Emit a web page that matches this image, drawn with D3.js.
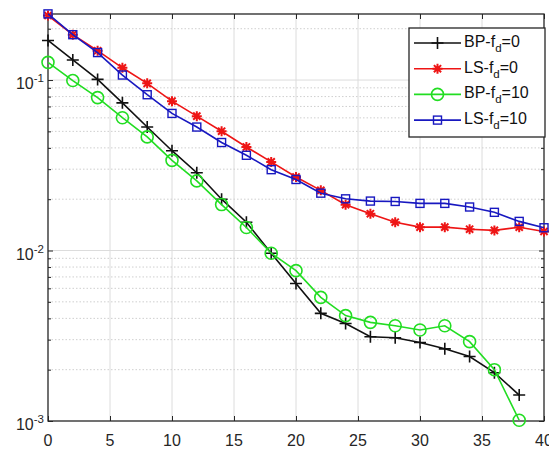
<!DOCTYPE html>
<html>
<head>
<meta charset="utf-8">
<script src="https://cdn.jsdelivr.net/npm/d3@7"></script>
<style>
  html, body { margin: 0; padding: 0; background: #fff; }
  svg { display: block; font-family: "Liberation Sans", Arial, sans-serif; }
</style>
</head>
<body>
<svg id="chart" width="549" height="449"></svg>
<script>
// ---- data ----
const xBP = [0,2,4,6,8,10,12,14,16,18,20,22,24,26,28,30,32,34,36,38];
const xLS = [0,2,4,6,8,10,12,14,16,18,20,22,24,26,28,30,32,34,36,38,40];
const bpFd0 = [0.1706,0.1312,0.1009,0.0735,0.0530,0.0385,0.0286,0.0200,0.01466,0.00964,0.0064,0.00428,0.00373,0.00312,0.00308,0.00289,0.00265,0.00239,0.00192,0.00142];
const lsFd0 = [0.239,0.1845,0.1486,0.118,0.0956,0.0752,0.0614,0.0501,0.0405,0.0331,0.0270,0.02254,0.01858,0.01644,0.01466,0.01371,0.01371,0.01334,0.01312,0.0137,0.01294];
const bpFd10 = [0.127,0.0993,0.0789,0.0601,0.0464,0.0338,0.0256,0.0186,0.01365,0.00964,0.00762,0.00531,0.00415,0.00379,0.00362,0.00342,0.00362,0.00292,0.0020,0.00101];
const lsFd10 = [0.2444,0.1845,0.1449,0.107,0.082,0.0637,0.053,0.0430,0.0362,0.0298,0.0261,0.0217,0.0201,0.0195,0.0194,0.0189,0.0189,0.0180,0.01675,0.01482,0.0136];
const xTicks = [0,5,10,15,20,25,30,35,40];
const yDecades = [1e-3,1e-2,1e-1];
const yTickExp = ["-3","-2","-1"];
const legendMain = ["BP-f","LS-f","BP-f","LS-f"];
const legendTail = ["=0","=0","=10","=10"];

const series = [
  {x: xBP, y: bpFd0, color: "#111111", marker: "plus"},
  {x: xLS, y: lsFd0, color: "#ee1515", marker: "star"},
  {x: xBP, y: bpFd10, color: "#22dd22", marker: "circle"},
  {x: xLS, y: lsFd10, color: "#1818c0", marker: "square"}
];

// ---- layout ----
const L = 48, R = 544, T = 14, B = 421;
const svg = d3.select("#chart");
const x = d3.scaleLinear().domain([0, 40]).range([L, R]);
const y = d3.scaleLog().domain([1e-3, 0.244]).range([B, T]);

// grid
const g = svg.append("g");
xTicks.forEach(t => {
  if (t > 0 && t < 40)
    g.append("line").attr("x1", x(t)).attr("x2", x(t)).attr("y1", T).attr("y2", B)
      .attr("stroke", "#dcdcdc").attr("stroke-width", 1);
});
const minors = [];
yDecades.forEach(d => { for (let k = 2; k <= 9; k++) { const v = d * k; if (v < 0.244) minors.push(v); } });
minors.forEach(v => {
  g.append("line").attr("x1", L).attr("x2", R).attr("y1", y(v)).attr("y2", y(v))
    .attr("stroke", "#cfcfcf").attr("stroke-width", 1).attr("stroke-dasharray", "1.5,2");
});
yDecades.forEach(v => {
  if (v > 1e-3)
    g.append("line").attr("x1", L).attr("x2", R).attr("y1", y(v)).attr("y2", y(v))
      .attr("stroke", "#dcdcdc").attr("stroke-width", 1);
});

// axes with inward ticks
const axisColor = "#262626";
const xAxisB = d3.axisBottom(x).tickValues(xTicks).tickSizeInner(-5).tickSizeOuter(0).tickFormat("");
const xAxisT = d3.axisTop(x).tickValues(xTicks).tickSizeInner(-5).tickSizeOuter(0).tickFormat("");
const yAxisL = d3.axisLeft(y).tickValues(yDecades).tickSizeInner(-5).tickSizeOuter(0).tickFormat("");
const yAxisR = d3.axisRight(y).tickValues(yDecades).tickSizeInner(-5).tickSizeOuter(0).tickFormat("");
const yMinL = d3.axisLeft(y).tickValues(minors).tickSizeInner(-3).tickSizeOuter(0).tickFormat("");
const yMinR = d3.axisRight(y).tickValues(minors).tickSizeInner(-3).tickSizeOuter(0).tickFormat("");
[[xAxisB, `translate(0,${B})`], [xAxisT, `translate(0,${T})`], [yAxisL, `translate(${L},0)`],
 [yAxisR, `translate(${R},0)`], [yMinL, `translate(${L},0)`], [yMinR, `translate(${R},0)`]].forEach(([a, tr]) => {
  const ax = svg.append("g").attr("transform", tr).call(a);
  ax.selectAll("line").attr("stroke", axisColor).attr("stroke-width", 1);
  ax.select(".domain").remove();
});
// frame
svg.append("rect").attr("x", L).attr("y", T).attr("width", R - L).attr("height", B - T)
  .attr("fill", "none").attr("stroke", axisColor).attr("stroke-width", 1.3);

// tick labels
xTicks.forEach(t => {
  svg.append("text").attr("x", x(t)).attr("y", B + 25).attr("text-anchor", "middle")
    .attr("font-size", 16).attr("fill", "#262626").text(t);
});
yDecades.forEach((v, i) => {
  const tx = svg.append("text").attr("x", 44).attr("y", y(v) + 9).attr("text-anchor", "end")
    .attr("font-size", 16).attr("fill", "#262626");
  tx.append("tspan").text("10");
  tx.append("tspan").attr("dy", -7).attr("font-size", 11.5).text(yTickExp[i]);
});

// markers
function drawMarker(sel, type, color) {
  if (type === "plus") {
    sel.append("path").attr("d", "M-6,0H6M0,-6V6").attr("stroke", color).attr("stroke-width", 1.6).attr("fill", "none");
  } else if (type === "star") {
    sel.append("path").attr("d", "M-5,0H5M0,-5V5M-3.6,-3.6L3.6,3.6M-3.6,3.6L3.6,-3.6")
      .attr("stroke", color).attr("stroke-width", 2).attr("fill", "none");
  } else if (type === "circle") {
    sel.append("circle").attr("r", 6).attr("stroke", color).attr("stroke-width", 1.6).attr("fill", "none");
  } else if (type === "square") {
    sel.append("rect").attr("x", -4).attr("y", -4).attr("width", 8).attr("height", 8)
      .attr("stroke", color).attr("stroke-width", 1.4).attr("fill", "none");
  }
}

const line = d3.line().x(d => x(d[0])).y(d => y(d[1]));
series.forEach(s => {
  const pts = s.x.map((xv, i) => [xv, s.y[i]]);
  svg.append("path").datum(pts).attr("d", line).attr("fill", "none")
    .attr("stroke", s.color).attr("stroke-width", 1.6);
  pts.forEach(p => {
    const m = svg.append("g").attr("transform", `translate(${x(p[0])},${y(p[1])})`);
    drawMarker(m, s.marker, s.color);
  });
});

// legend
const lg = svg.append("g");
lg.append("rect").attr("x", 409).attr("y", 28).attr("width", 136).attr("height", 109)
  .attr("fill", "#fff").attr("stroke", "#262626").attr("stroke-width", 1.3);
series.forEach((s, i) => {
  const ly = 43 + i * 25.7;
  lg.append("line").attr("x1", 414).attr("x2", 461).attr("y1", ly).attr("y2", ly)
    .attr("stroke", s.color).attr("stroke-width", 1.6);
  const m = lg.append("g").attr("transform", `translate(437.5,${ly})`);
  drawMarker(m, s.marker, s.color);
  const t = lg.append("text").attr("x", 464).attr("y", ly + 4).attr("font-size", 16).attr("fill", "#111");
  t.append("tspan").text(legendMain[i]);
  t.append("tspan").attr("dy", 5).attr("font-size", 11.5).text("d");
  t.append("tspan").attr("dy", -5).text(legendTail[i]);
});
</script>
</body>
</html>
